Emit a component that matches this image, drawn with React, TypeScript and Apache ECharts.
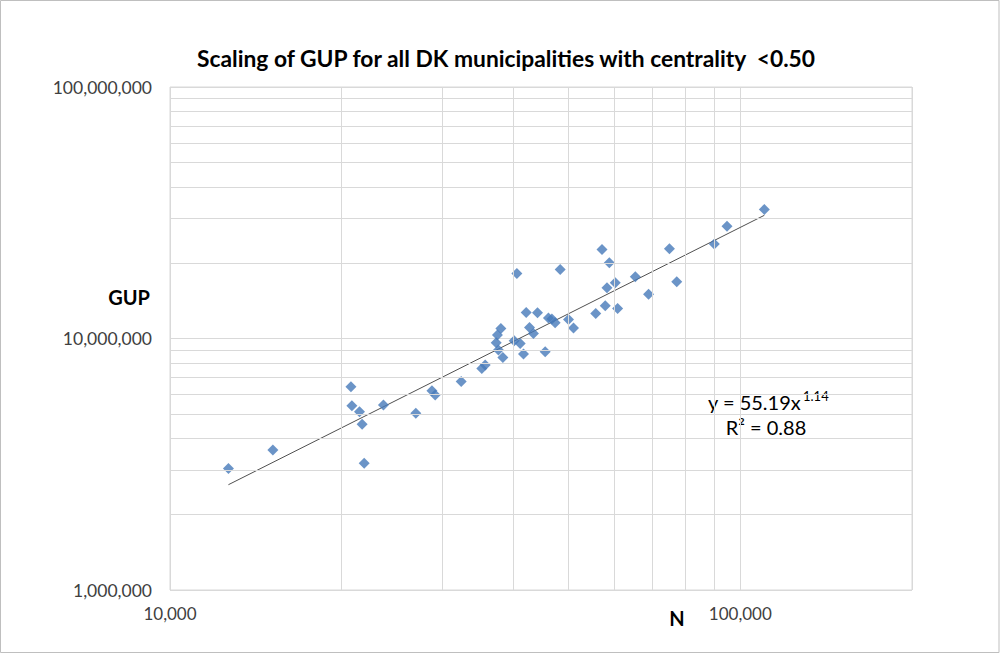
import React, { useEffect, useRef } from "react";
import * as echarts from "echarts";

const FONT = "Lato, 'Open Sans', sans-serif";

const chartTitle = "Scaling of GUP for all DK municipalities with centrality  <0.50";
const xAxisName = "N";
const yAxisName = "GUP";
const equationBase = "y = 55.19x";
const equationExp = "1.14";
const rSquaredText = "R\u00B2 = 0.88";

// fit coefficients shown in the chart (GUP = a * N^b)
const fitA = 55.19;
const fitB = 1.14;

// municipality population (N)
const populationN = [
  12660, 15150, 20760, 20840, 21490, 21720, 21900, 23670, 26980, 28790,
  29170, 32400, 35220, 35700, 38030, 37510, 37320, 37660, 38340, 40130,
  41120, 41670, 42690, 43380, 45480, 42130, 44090, 46090, 46730, 47350,
  49970, 50990, 40570, 48320, 55790, 57210, 58920, 65440, 60360, 58370,
  69050, 77370, 75120, 57970, 60930, 90030, 94770, 110180,
];

// gross urban product (GUP)
const gupValues = [
  3045000, 3601000, 6427000, 5402000, 5112000, 4556000, 3189000, 5437000, 5039000, 6196000,
  5957000, 6742000, 7606000, 7839000, 10967000, 10316000, 9614000, 8994000, 8412000, 9792000,
  9561000, 8670000, 11068000, 10478000, 8853000, 12676000, 12653000, 12075000, 11943000, 11545000,
  11910000, 10998000, 18148000, 18824000, 12583000, 22610000, 19995000, 17592000, 16651000, 15905000,
  14988000, 16804000, 22735000, 13490000, 13173000, 23735000, 27978000, 32600000,
];

// minor grid positions (log axis)
const xMinorTicks = [20000, 30000, 40000, 50000, 60000, 70000, 80000, 90000];
const yMinorTicks = [
  2000000, 3000000, 4000000, 5000000, 6000000, 7000000, 8000000, 9000000,
  20000000, 30000000, 40000000, 50000000, 60000000, 70000000, 80000000, 90000000,
];

const xMin = 10000;
const xMax = 200000;
const yMin = 1000000;
const yMax = 100000000;

const powerLabel = (v: number) => {
  const l = Math.log10(v);
  if (Math.abs(l - Math.round(l)) < 1e-6) {
    return Math.round(Math.pow(10, Math.round(l))).toLocaleString("en-US");
  }
  return "";
};

export default function App() {
  const ref = useRef<HTMLDivElement>(null);

  useEffect(() => {
    if (!ref.current) return;
    const chart = echarts.init(ref.current, undefined, { renderer: "svg" });

    const points = populationN.map((n, i) => [n, gupValues[i]]);
    const nLo = Math.min(...populationN);
    const nHi = Math.max(...populationN);
    const trend = [
      [nLo, fitA * Math.pow(nLo, fitB)],
      [nHi, fitA * Math.pow(nHi, fitB)],
    ];

    const gridColor = "#d9d9d9";

    chart.setOption({
      animation: false,
      textStyle: { fontFamily: FONT },
      grid: {
        left: 170,
        right: 89,
        top: 87,
        bottom: 64,
        show: true,
        borderColor: gridColor,
        borderWidth: 1,
        containLabel: false,
        outerBoundsMode: "none",
      },
      xAxis: {
        type: "log",
        logBase: 10,
        min: xMin,
        max: xMax,
        axisLine: { show: false },
        axisTick: { show: false },
        splitLine: { show: true, lineStyle: { color: gridColor, width: 1 } },
        axisLabel: {
          formatter: powerLabel,
          fontSize: 17,
          color: "#404040",
          margin: 15,
          fontFamily: FONT,
          showMaxLabel: false,
        },
      },
      yAxis: {
        type: "log",
        logBase: 10,
        min: yMin,
        max: yMax,
        axisLine: { show: false },
        axisTick: { show: false },
        splitLine: { show: true, lineStyle: { color: gridColor, width: 1 } },
        axisLabel: {
          formatter: powerLabel,
          fontSize: 17.5,
          color: "#404040",
          margin: 18,
          fontFamily: FONT,
        },
      },
      series: [
        {
          type: "line",
          data: [],
          silent: true,
          z: 0,
          markLine: {
            silent: true,
            symbol: ["none", "none"],
            label: { show: false },
            lineStyle: { color: gridColor, width: 1, type: "solid" },
            emphasis: { disabled: true },
            data: [
              ...xMinorTicks.map((v) => ({ xAxis: v })),
              ...yMinorTicks.map((v) => ({ yAxis: v })),
            ],
          },
        },
        {
          type: "line",
          data: trend,
          symbol: "none",
          silent: true,
          z: 2,
          lineStyle: { color: "#505050", width: 1 },
        },
        {
          type: "scatter",
          data: points,
          symbol: "diamond",
          symbolSize: 11,
          z: 3,
          itemStyle: { color: "#4679b9" },
        },
      ],
      graphic: [
        {
          type: "rect",
          shape: { x: 0.5, y: 0.5, width: 998.5, height: 652 },
          style: { fill: "none", stroke: "#bfbfbf", lineWidth: 1 },
          silent: true,
          z: -10,
        },
        {
          type: "text",
          x: 506,
          y: 58,
          style: {
            text: chartTitle,
            fontFamily: FONT,
            fontSize: 22.8,
            fontWeight: "bold",
            fill: "#000000",
            textAlign: "center",
            textVerticalAlign: "middle",
          },
        },
        {
          type: "text",
          x: 150,
          y: 297,
          style: {
            text: yAxisName,
            fontFamily: FONT,
            fontSize: 20,
            fontWeight: "bold",
            fill: "#000000",
            textAlign: "right",
            textVerticalAlign: "middle",
          },
        },
        {
          type: "text",
          x: 677,
          y: 618,
          style: {
            text: xAxisName,
            fontFamily: FONT,
            fontSize: 20,
            fontWeight: "bold",
            fill: "#000000",
            textAlign: "center",
            textVerticalAlign: "middle",
          },
        },
        {
          type: "text",
          x: 708,
          y: 402,
          style: {
            text: equationBase,
            fontFamily: FONT,
            fontSize: 20,
            fill: "#000000",
            textAlign: "left",
            textVerticalAlign: "middle",
          },
        },
        {
          type: "text",
          x: 803,
          y: 396,
          style: {
            text: equationExp,
            fontFamily: FONT,
            fontSize: 13,
            fill: "#000000",
            textAlign: "left",
            textVerticalAlign: "middle",
          },
        },
        {
          type: "text",
          x: 766,
          y: 427,
          style: {
            text: rSquaredText,
            fontFamily: FONT,
            fontSize: 20,
            fill: "#000000",
            textAlign: "center",
            textVerticalAlign: "middle",
          },
        },
      ],
    });

    return () => chart.dispose();
  }, []);

  return (
    <div
      ref={ref}
      style={{ position: "absolute", left: 0, top: 0, width: 1001, height: 654, background: "#ffffff" }}
    />
  );
}
